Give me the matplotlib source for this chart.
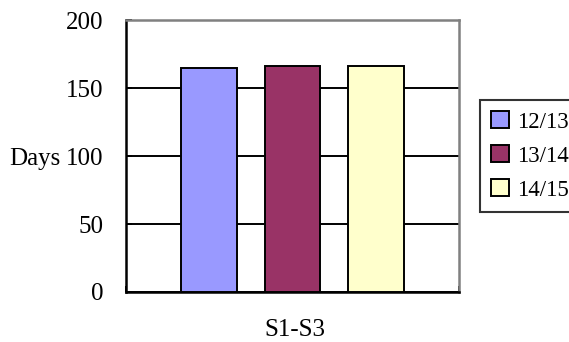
import matplotlib as mpl
mpl.use('Agg')

import matplotlib.pyplot as plt
import numpy as np

# data
category = 'S1-S3'
years = ['12/13', '13/14', '14/15']
days = [165, 166, 166]
colors = ['#9999ff', '#993366', '#ffffcc']

plt.rcParams['font.family'] = ['Liberation Serif', 'DejaVu Serif']

fig = plt.figure(figsize=(5.69, 3.42), dpi=100)
ax = fig.add_axes([0.2214, 0.1462, 0.5852, 0.7953])

x = np.arange(len(years)) - 1
for xi, d, c, lab in zip(x, days, colors, years):
    ax.bar(xi, d, width=0.67, color=c, edgecolor='black', linewidth=1.4,
           label=lab, zorder=3)

ax.set_xlim(-2, 2)
ax.set_ylim(0, 200)
ax.set_yticks([0, 50, 100, 150, 200])
ax.yaxis.grid(True, color='black', linewidth=1.4, zorder=0)
ax.set_axisbelow(True)
ax.set_xticks([-2, 2])
ax.set_xticklabels(['', ''])
ax.tick_params(axis='y', direction='in', length=4, width=1.4, labelsize=18, pad=16)
ax.tick_params(axis='x', direction='in', length=4, width=1.4)

for side in ['left', 'bottom']:
    ax.spines[side].set_color('black')
    ax.spines[side].set_linewidth(1.8)
for side in ['top', 'right']:
    ax.spines[side].set_color('#808080')
    ax.spines[side].set_linewidth(1.8)

ax.set_ylabel('Days', rotation=0, fontsize=18, ha='right', va='center')
ax.yaxis.set_label_coords(-0.198, 0.49)
fig.text(0.518, 0.035, category, fontsize=18, ha='center', va='center')

# legend box starts at x~480 px and runs to the right edge of the picture
leg = ax.legend(loc='center left', bbox_to_anchor=(1.063, 0.5), fontsize=16.5,
                frameon=True, fancybox=False, edgecolor='black',
                handlelength=0.75, handleheight=0.75, handletextpad=0.35,
                labelspacing=0.55, borderpad=0.5, borderaxespad=0.0)
leg.get_frame().set_linewidth(1.5)

fig.savefig('out.png', dpi=100)
